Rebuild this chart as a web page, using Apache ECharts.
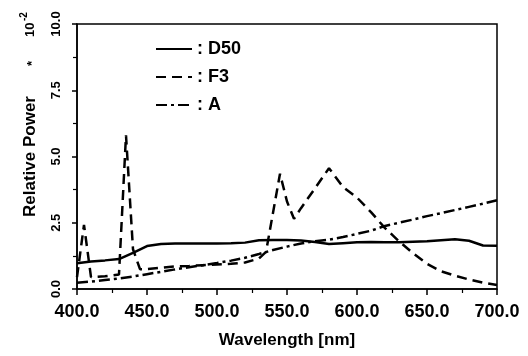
<!DOCTYPE html>
<html><head><meta charset="utf-8">
<script src="https://cdn.jsdelivr.net/npm/echarts@6/dist/echarts.min.js"></script>
<style>html,body{margin:0;padding:0;background:#fff}#c{width:528px;height:356px}</style>
</head><body><div id="c"></div>
<script>
var d50Wl = [400,410,420,430,440,450,460,470,480,490,500,510,520,530,540,550,560,570,580,590,600,610,620,630,640,650,660,670,680,690,700];
var d50Val = [0.97,1.04,1.08,1.13,1.36,1.62,1.70,1.72,1.72,1.72,1.72,1.73,1.75,1.84,1.85,1.85,1.83,1.77,1.70,1.73,1.76,1.77,1.76,1.76,1.78,1.80,1.84,1.88,1.82,1.64,1.63];
var f3Wl = [400,405,410,420,430,435,440,445,450,460,470,480,490,500,510,520,530,535,545,550,555,560,570,580,590,600,610,620,630,640,650,660,670,680,690,700];
var f3Val = [0.45,2.42,0.45,0.48,0.55,5.8,1.5,0.75,0.75,0.8,0.85,0.87,0.9,0.92,0.95,1.0,1.15,1.4,4.35,3.3,2.65,3.05,3.8,4.56,3.85,3.45,2.9,2.3,1.8,1.35,0.95,0.67,0.5,0.36,0.24,0.15];
var aWl = [400,410,420,430,440,450,460,470,480,490,500,510,520,530,540,550,560,570,580,590,600,610,620,630,640,650,660,670,680,690,700];
var aVal = [0.24,0.28,0.34,0.40,0.47,0.56,0.65,0.74,0.82,0.90,0.98,1.07,1.18,1.32,1.47,1.60,1.72,1.80,1.86,1.96,2.08,2.20,2.38,2.50,2.62,2.75,2.86,2.98,3.10,3.22,3.35];
var seriesNames = ['D50','F3','A'];

function pairs(x, y){ return x.map(function(v,i){ return [v, y[i]]; }); }
var F = 'Liberation Sans';
var chart = echarts.init(document.getElementById('c'), null, {renderer:'canvas'});
chart.setOption({
  animation:false,
  grid:{left:77,right:31,top:24,bottom:67,show:true,borderColor:'#000',borderWidth:1.5,backgroundColor:'transparent'},
  legend:{
    left:155, top:40, orient:'vertical', itemWidth:36, itemHeight:14, itemGap:10, padding:0,
    data:seriesNames,
    itemStyle:{color:'rgba(0,0,0,0)', borderColor:'rgba(0,0,0,0)', borderWidth:0, opacity:0},
    formatter:function(n){ return ': ' + n; },
    textStyle:{fontFamily:F, fontWeight:'bold', fontSize:18, color:'#000'}
  },
  xAxis:{
    type:'value', min:400, max:700, interval:50,
    name:'Wavelength [nm]', nameLocation:'middle', nameGap:43,
    nameTextStyle:{fontFamily:F, fontWeight:'bold', fontSize:17, color:'#000'},
    axisLine:{lineStyle:{color:'#000', width:1.5}},
    axisTick:{show:true, length:6, lineStyle:{color:'#000', width:1.5}},
    minorTick:{show:true, splitNumber:2, length:4, lineStyle:{color:'#000', width:1.2}},
    splitLine:{show:false},
    axisLabel:{margin:14, fontFamily:F, fontWeight:'bold', fontSize:18, color:'#000',
      formatter:function(v){ return v.toFixed(1); }}
  },
  yAxis:{
    type:'value', min:0, max:10, interval:2.5,
    name:'Relative Power', nameLocation:'middle', nameGap:38, nameRotate:90,
    nameTextStyle:{fontFamily:F, fontWeight:'bold', fontSize:17, color:'#000'},
    axisLine:{show:true, lineStyle:{color:'#000', width:1.5}},
    axisTick:{show:true, length:5, lineStyle:{color:'#000', width:1.5}},
    minorTick:{show:true, splitNumber:2, length:4, lineStyle:{color:'#000', width:1.2}},
    splitLine:{show:false},
    axisLabel:{margin:14, rotate:90, fontFamily:F, fontWeight:'bold', fontSize:13, color:'#000',
      formatter:function(v){ return v.toFixed(1); }}
  },
  graphic:[
    {type:'text', x:32, y:66, rotation:Math.PI/2,
      style:{text:'*', font:'bold 13px "Liberation Sans"', fill:'#000', align:'left', verticalAlign:'middle'}},
    {type:'text', x:30, y:37, rotation:Math.PI/2,
      style:{text:'10', font:'bold 13px "Liberation Sans"', fill:'#000', align:'left', verticalAlign:'middle'}},
    {type:'text', x:24, y:21, rotation:Math.PI/2,
      style:{text:'-2', font:'bold 10px "Liberation Sans"', fill:'#000', align:'left', verticalAlign:'middle'}}
  ],
  series:[
    {name:seriesNames[0], type:'line', symbol:'none', data:pairs(d50Wl,d50Val),
      lineStyle:{color:'#000', width:2.5, type:'solid'}, itemStyle:{color:'#000'}},
    {name:seriesNames[1], type:'line', symbol:'none', data:pairs(f3Wl,f3Val),
      lineStyle:{color:'#000', width:2.5, type:[10,6]}, itemStyle:{color:'#000'}},
    {name:seriesNames[2], type:'line', symbol:'none', data:pairs(aWl,aVal),
      lineStyle:{color:'#000', width:2.5, type:[11,4,3,4]}, itemStyle:{color:'#000'}}
  ]
});
</script></body></html>
